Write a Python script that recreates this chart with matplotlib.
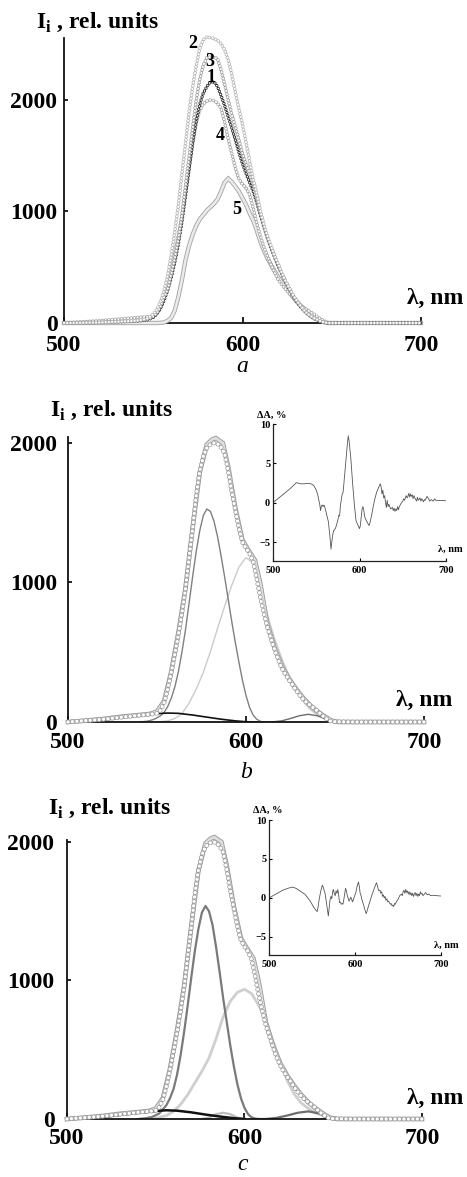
import matplotlib
matplotlib.use("Agg")
import matplotlib.pyplot as plt
import matplotlib.patheffects as pe

plt.rcParams["font.family"] = ["Liberation Serif", "DejaVu Serif"]
plt.rcParams["font.weight"] = "bold"
plt.rcParams["mathtext.fontset"] = "custom"
plt.rcParams["mathtext.bf"] = "Liberation Serif:bold"
plt.rcParams["mathtext.rm"] = "Liberation Serif:bold"
plt.rcParams["lines.scale_dashes"] = False

# ---------------- data ----------------
wl = [500, 520, 540, 546, 548, 550, 552, 554, 556, 558, 560, 562, 564, 566, 568,
      570, 572, 574, 576, 578, 580, 582, 584, 586, 588, 590, 592, 594, 596, 598,
      600, 602, 604, 606, 608, 610, 612, 614, 616, 618, 620, 622, 624, 626, 628,
      630, 632, 634, 636, 638, 640, 642, 644, 646, 648, 660, 680, 700]

spec1 = [0, 4, 15, 25, 36, 50, 80, 130, 200, 290, 400, 540, 700, 900, 1130,
         1370, 1600, 1800, 1960, 2060, 2120, 2160, 2165, 2120, 2040, 1950, 1850, 1750, 1640, 1530,
         1430, 1340, 1260, 1180, 1080, 970, 860, 760, 670, 590, 510, 440, 370, 310, 250,
         200, 155, 118, 86, 60, 40, 26, 13, 4, 0, 0, 0, 0]
spec2 = [0, 5, 20, 35, 55, 80, 120, 190, 290, 420, 600, 810, 1050, 1330, 1600,
         1880, 2110, 2300, 2460, 2540, 2565, 2560, 2550, 2535, 2505, 2450, 2360, 2230, 2070, 1920,
         1780, 1620, 1450, 1290, 1160, 1010, 880, 780, 690, 600, 530, 450, 380, 320, 260,
         210, 165, 125, 90, 65, 45, 30, 15, 5, 0, 0, 0, 0]
spec3 = [0, 5, 18, 30, 42, 60, 90, 150, 230, 300, 430, 580, 740, 960, 1220,
         1480, 1740, 1990, 2180, 2310, 2380, 2385, 2385, 2370, 2270, 2140, 2000, 1870, 1760, 1640,
         1520, 1430, 1350, 1250, 1120, 990, 870, 770, 680, 600, 520, 445, 375, 315, 255,
         205, 160, 120, 88, 62, 42, 28, 14, 4, 0, 0, 0, 0]
spec4 = [0, 20, 48, 55, 58, 62, 85, 140, 235, 355, 485, 625, 780, 955, 1175,
         1385, 1620, 1795, 1905, 1965, 1990, 2000, 1995, 1970, 1925, 1800, 1650, 1520, 1390, 1290,
         1245, 1210, 1150, 1030, 895, 780, 680, 600, 520, 450, 390, 345, 305, 270, 230,
         195, 165, 140, 120, 100, 80, 55, 35, 15, 3, 0, 0, 0]
spec5 = [0, 0, 0, 0, 0, 0, 0, 2, 5, 20, 45, 110, 230, 380, 560,
         690, 790, 870, 930, 970, 1010, 1040, 1070, 1110, 1180, 1260, 1295, 1265, 1225, 1180,
         1120, 1060, 985, 920, 830, 730, 650, 580, 520, 465, 410, 365, 320, 280, 240,
         200, 165, 135, 110, 85, 60, 38, 20, 6, 0, 0, 0, 0]

# fitted envelope (sum of bands)
wl_fit = [500, 510, 520, 530, 540, 546, 550, 554, 558, 562, 566, 570, 574, 578, 581,
          583, 587, 590, 594, 598, 601, 605, 608, 612, 616, 620, 624, 628, 632, 636,
          640, 644, 648, 652, 700]
fit = [0, 10, 22, 38, 50, 58, 75, 150, 360, 640, 960, 1390, 1790, 1990, 2025,
       2035, 2000, 1830, 1535, 1305, 1240, 1160, 995, 700, 535, 405, 315, 240, 175, 120,
       78, 42, 10, 0, 0]

# decomposition b
wl_b1 = [540, 544, 546, 548, 550, 552, 554, 556, 558, 560, 562, 564, 566, 568, 570, 572,
         574, 576, 578, 580, 582, 584, 586, 588, 590, 592, 594, 596, 598, 600, 602,
         604, 606, 608, 610, 615]
b1 = [0, 5, 10, 18, 30, 45, 70, 110, 170, 250, 360, 500, 660, 850, 1040, 1220,
      1370, 1480, 1527, 1510, 1440, 1330, 1190, 1040, 880, 720, 570, 430, 300, 190, 105,
      50, 20, 5, 0, 0]
wl_b2 = [550, 556, 560, 564, 568, 572, 576, 580, 584, 588, 592, 596, 600, 604, 608,
         612, 616, 620, 624, 628, 632, 636, 640, 644, 648, 652, 656]
b2 = [0, 8, 25, 60, 135, 235, 355, 505, 670, 830, 980, 1110, 1178, 1140, 980,
      770, 600, 460, 335, 230, 150, 90, 50, 25, 10, 3, 0]
wl_b3 = [500, 510, 520, 530, 540, 550, 556, 562, 570, 578, 586, 594, 600, 606]
b3 = [2, 8, 18, 32, 47, 60, 64, 62, 50, 35, 20, 8, 2, 0]
wl_b4 = [614, 620, 625, 630, 635, 640, 645, 650, 655]
b4 = [0, 8, 25, 45, 55, 45, 20, 5, 0]

# decomposition c
wl_c1 = [540, 544, 548, 552, 556, 558, 560, 562, 564, 566, 568, 570, 572, 574, 576,
         578, 580, 582, 584, 586, 588, 590, 592, 594, 596, 598, 600, 602, 604, 606, 608, 612]
c1 = [0, 5, 15, 40, 100, 150, 215, 320, 460, 630, 820, 1020, 1210, 1370, 1490,
      1538, 1500, 1400, 1240, 1060, 870, 700, 530, 380, 250, 150, 80, 35, 12, 3, 0, 0]
wl_c2 = [550, 556, 560, 564, 568, 572, 576, 580, 584, 588, 592, 596, 600, 604, 608,
         612, 616, 620, 624, 628, 632, 636, 640, 644, 648, 652, 656]
c2 = [5, 25, 55, 105, 175, 260, 345, 440, 580, 738, 850, 915, 936, 905, 820,
      705, 560, 420, 280, 180, 115, 75, 45, 25, 10, 3, 0]
wl_c3 = [500, 510, 520, 530, 540, 550, 556, 562, 570, 578, 586, 594, 600]
c3 = [0, 5, 15, 30, 45, 58, 63, 60, 48, 32, 18, 6, 0]
wl_c4 = [612, 618, 624, 630, 636, 642, 648, 654, 660]
c4 = [0, 8, 25, 45, 55, 40, 15, 3, 0]
wl_c5 = [576, 580, 584, 588, 592, 596, 600]
c5 = [0, 10, 35, 45, 35, 10, 0]

# residuals, %
wl_rb = [500, 510, 520, 527, 532, 536, 540, 544, 547, 550, 552, 553, 554, 555, 556, 557, 558,
         559, 560, 562, 564, 566, 567, 568, 569, 570, 571, 572, 573, 574, 575, 576, 577,
         578, 579, 580, 581, 582, 584, 586, 587, 588, 590, 592, 593, 594, 596, 598, 600,
         601, 602, 603, 604, 605, 606, 608, 610, 611, 612, 614, 616, 618, 620, 622, 624,
         625, 626, 627, 628, 629, 630, 631, 632, 633, 634, 636, 638, 639, 640, 641, 642,
         643, 644, 645, 646, 648, 650, 651, 652, 654, 655, 656, 657, 658, 659, 660, 661,
         662, 663, 664, 666, 667, 668, 670, 671, 672, 674, 675, 676, 678, 680, 681, 683,
         685, 687, 688, 690, 700]
rb = [0, 0.9, 1.8, 2.55, 2.4, 2.4, 2.45, 2.4, 2.2, 1.6, 0.9, 0.3, -0.2, -1.0, -0.4, -0.3, -0.5,
      -0.3, -0.6, -1.5, -2.4, -4.5, -5.9, -5.0, -4.1, -3.6, -3.4, -3.3, -3.0, -2.6, -2.2, -1.6, -1.7,
      -0.3, 0.4, 1.1, 1.3, 2.5, 5.0, 7.5, 8.5, 7.8, 5.6, 2.5, 1.2, -0.2, -2.3, -2.8, -3.3,
      -2.9, -1.8, -0.8, -0.5, -1.0, -1.8, -2.3, -2.7, -2.9, -2.6, -1.6, -0.4, 0.6, 1.4, 1.9, 2.4,
      2.0, 1.1, 1.6, 0.6, 0.9, 0.1, -0.6, 0.3, -0.5, -0.2, -0.8, -0.6, -1.0, -0.7, -1.1, -0.8,
      -1.0, -0.5, -0.9, -0.5, -0.1, 0.2, 0.5, 0.3, 0.9, 0.6, 0.8, 1.2, 0.7, 1.1, 0.8, 1.0,
      0.5, 0.9, 0.6, 0.2, 0.7, 0.3, 0.6, 0.2, 0.5, 0.1, 0.4, 0.3, 0.8, 0.5, 0.2, 0.4,
      0.2, 0.5, 0.3, 0.3, 0.25]

wl_rc = [500, 508, 516, 522, 528, 532, 536, 542, 548, 552, 554, 556, 557, 558, 560, 562,
         563, 564, 565, 566, 567, 568, 569, 570, 571, 572, 573, 574, 575, 576, 577, 578,
         579, 580, 581, 582, 583, 584, 585, 586, 587, 588, 589, 590, 591, 592, 593, 594,
         595, 596, 597, 598, 599, 600, 601, 602, 604, 605, 606, 607, 608, 610, 612, 613,
         614, 616, 618, 620, 622, 624, 625, 626, 627, 628, 629, 630, 631, 632, 633, 634,
         635, 636, 637, 638, 639, 640, 641, 642, 643, 644, 645, 646, 647, 648, 650, 652,
         654, 655, 656, 657, 658, 659, 660, 661, 662, 663, 664, 665, 666, 667, 668, 669,
         670, 671, 672, 673, 674, 675, 676, 677, 678, 679, 680, 682, 684, 686, 688, 690,
         695, 700]
rc = [0, 0.5, 1.0, 1.25, 1.4, 1.2, 0.9, 0.45, -0.4, -1.2, -1.5, -1.75, -1.2, -0.4, 0.8, 1.65,
      1.4, 1.0, 0.7, 0.0, -0.8, -1.6, -2.3, -1.2, -0.2, 0.2, -0.1, 0.8, 1.1, 0.5, 0.3, 0.9,
      0.6, 1.1, 0.4, -0.6, -0.5, -0.8, -0.7, -0.8, -0.2, 0.5, 1.25, 0.9, 0.3, 0.0, -0.4, -0.2,
      0.1, -0.1, -0.5, -0.3, 0.1, 0.4, 0.7, 1.3, 2.05, 1.5, 0.6, 0.3, -0.2, -0.9, -1.7, -2.0,
      -1.7, -0.9, -0.2, 0.5, 1.1, 1.7, 1.95, 1.6, 1.1, 0.9, 1.0, 0.6, 0.8, 0.2, 0.4, 0.0,
      0.2, -0.3, -0.1, -0.5, -0.4, -0.6, -0.8, -0.7, -1.0, -0.9, -1.1, -0.7, -0.8, -0.5, -0.2, 0.3,
      0.5, 0.3, 0.8, 1.0, 0.6, 1.1, 0.7, 0.9, 0.5, 0.8, 0.4, 0.7, 0.3, 0.6, 0.2, 0.5,
      0.7, 0.3, 0.6, 0.2, 0.5, 0.3, 0.8, 0.5, 0.6, 0.3, 0.4, 0.7, 0.4, 0.5, 0.3, 0.35,
      0.3, 0.25]

x_ticks = [500, 600, 700]
y_ticks = [0, 1000, 2000]
inset_yticks = [-5, 0, 5, 10]

# ---------------- layout helpers ----------------
W, H = 467, 1177
fig = plt.figure(figsize=(W / 100, H / 100), dpi=100)


def rect(x0, x1, ytop, ybot):
    return [x0 / W, (H - ybot) / H, (x1 - x0) / W, (ybot - ytop) / H]


def ftext(x, y, s, **kw):
    fig.text(x / W, 1 - y / H, s, **kw)


def rings(ax, x, y, d, edge, ew, gap, z):
    ls = (0, (0.01, gap))
    ax.plot(x, y, color=edge, lw=d, ls=ls, dash_capstyle="round", zorder=z, clip_on=False)
    ax.plot(x, y, color="white", lw=d - 2 * ew, ls=ls, dash_capstyle="round",
            zorder=z + 0.01, clip_on=False)


def band(ax, x, y, w, edge, core, z):
    ax.plot(x, y, color=core, lw=w, zorder=z, clip_on=False, solid_joinstyle="miter",
            path_effects=[pe.Stroke(linewidth=w + 1.3, foreground=edge), pe.Normal()])


def main_axes(r, ytop, xpad, ypad):
    ax = fig.add_axes(r)
    ax.set_xlim(500, 700)
    ax.set_ylim(0, ytop)
    for s in ("top", "right"):
        ax.spines[s].set_visible(False)
    for s in ("left", "bottom"):
        ax.spines[s].set_linewidth(1.3)
        ax.spines[s].set_color("#111111")
    ax.set_xticks(x_ticks)
    ax.set_yticks(y_ticks)
    ax.tick_params(axis="x", direction="in", length=4, width=1.2, pad=xpad, labelsize=17)
    ax.tick_params(axis="y", direction="in", length=3, width=1.2, pad=ypad, labelsize=17)
    ax.patch.set_visible(False)
    return ax


def inset_axes(r):
    ax = fig.add_axes(r)
    ax.set_xlim(500, 700)
    for s in ("top", "right"):
        ax.spines[s].set_visible(False)
    for s in ("left", "bottom"):
        ax.spines[s].set_linewidth(0.9)
        ax.spines[s].set_color("#222222")
    ax.set_xticks(x_ticks)
    ax.set_yticks(inset_yticks)
    ax.tick_params(direction="in", length=2.5, width=0.8, labelsize=7.5)
    ax.tick_params(axis="x", pad=3.5)
    ax.tick_params(axis="y", pad=2)
    ax.patch.set_visible(False)
    return ax


ylabel = r"$\mathbf{I}_{\mathbf{i}}$ , rel. units"

# ---------------- panel a ----------------
axa = main_axes(rect(64, 421, 38, 323), 2556, 8.6, 4.7)
band(axa, wl, spec5, 1.8, "#a5a5a5", "#ebebeb", 3)
rings(axa, wl, spec4, 2.6, "#a0a0a0", 0.5, 2.3, 4)
rings(axa, wl, spec1, 2.4, "#262626", 0.6, 2.3, 5)
rings(axa, wl, spec3, 2.6, "#9a9a9a", 0.5, 2.3, 6)
rings(axa, wl, spec2, 2.6, "#b3b3b3", 0.5, 2.3, 7)
for lbl, (x, y) in zip(["2", "3", "1", "4", "5"],
                       [(193, 43), (210, 62), (211, 77), (220, 135), (237, 210)]):
    ftext(x, y, lbl, fontsize=13, ha="center", va="center")
ftext(36, 22, ylabel, fontsize=17, ha="left", va="center")
ftext(463, 298, "λ, nm", fontsize=17, ha="right", va="center")
ftext(242, 366, "a", fontsize=17, style="italic", weight="normal", ha="center", va="center")

# ---------------- panel b ----------------
axb = main_axes(rect(68, 424, 437, 722), 2043, 7.2, 7.9)
axb.plot(wl_b2, b2, color="#cbcbcb", lw=1.0, zorder=2)
axb.plot(wl_b1, b1, color="#808080", lw=1.0, zorder=2)
axb.plot(wl_b4, b4, color="#6e6e6e", lw=1.0, zorder=2)
axb.plot(wl_b3, b3, color="#111111", lw=1.2, zorder=2)
band(axb, wl_fit, fit, 2.0, "#9c9c9c", "#dedede", 3)
rings(axb, wl, spec4, 3.4, "#9a9a9a", 0.5, 3.2, 4)
ftext(50, 410, ylabel, fontsize=17, ha="left", va="center")
ftext(452, 700, "λ, nm", fontsize=17, ha="right", va="center")
ftext(246, 772, "b", fontsize=17, style="italic", weight="normal", ha="center", va="center")

axbi = inset_axes(rect(273, 446, 424, 561))
axbi.set_ylim(-7.41, 10)
axbi.plot(wl_rb, rb, color="#555555", lw=0.6)
ftext(257, 415, "ΔA, %", fontsize=7.5, ha="left", va="center")
ftext(463, 549, "λ, nm", fontsize=7.5, ha="right", va="center")

# ---------------- panel c ----------------
axc = main_axes(rect(67, 422, 840, 1119), 2014, 6.5, 9.0)
axc.plot(wl_c2, c2, color="#cfcfcf", lw=2.0, zorder=2)
axc.plot(wl_c5, c5, color="#bdbdbd", lw=1.6, zorder=2)
axc.plot(wl_c1, c1, color="#7a7a7a", lw=1.6, zorder=2)
axc.plot(wl_c4, c4, color="#6e6e6e", lw=1.6, zorder=2)
axc.plot(wl_c3, c3, color="#111111", lw=1.8, zorder=2)
band(axc, wl_fit, fit, 2.0, "#9c9c9c", "#dedede", 3)
rings(axc, wl, spec4, 3.4, "#9a9a9a", 0.5, 3.2, 4)
ftext(48, 808, ylabel, fontsize=17, ha="left", va="center")
ftext(463, 1098, "λ, nm", fontsize=17, ha="right", va="center")
ftext(243, 1165, "c", fontsize=17, style="italic", weight="normal", ha="center", va="center")

axci = inset_axes(rect(269, 441, 820, 955))
axci.set_ylim(-7.31, 10)
axci.plot(wl_rc, rc, color="#555555", lw=0.6)
ftext(253, 810, "ΔA, %", fontsize=7.5, ha="left", va="center")
ftext(459, 945, "λ, nm", fontsize=7.5, ha="right", va="center")

fig.savefig("out.png", dpi=100)
